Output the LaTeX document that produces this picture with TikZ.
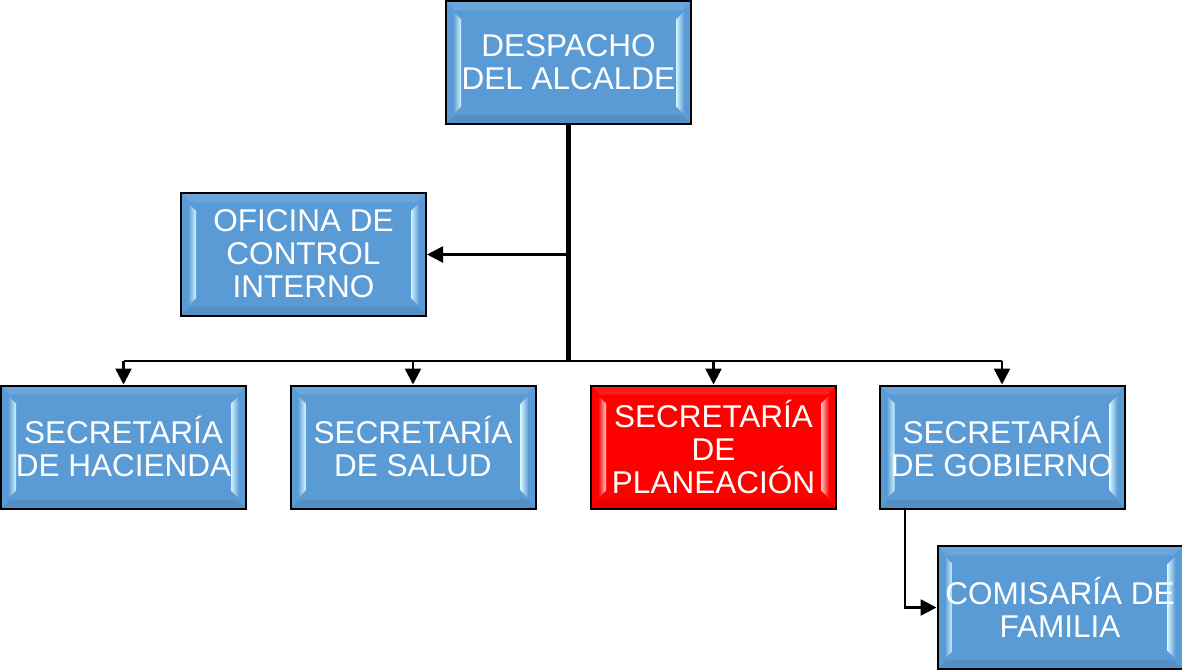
\documentclass[tikz,border=0pt]{standalone}
\usepackage{fontspec}
\setmainfont{Liberation Sans}
\usetikzlibrary{arrows.meta}
\definecolor{boxblue}{HTML}{5B9BD5}
\definecolor{bevblue}{HTML}{D2F4FF}
\definecolor{boxred}{HTML}{FF0000}
\definecolor{bevred}{HTML}{FFC8C8}
\newcommand\ppnw[2]{([xshift=#1pt,yshift=-#2pt]path picture bounding box.north west)}
\newcommand\ppne[2]{([xshift=-#1pt,yshift=-#2pt]path picture bounding box.north east)}
\newcommand\ppsw[2]{([xshift=#1pt,yshift=#2pt]path picture bounding box.south west)}
\newcommand\ppse[2]{([xshift=-#1pt,yshift=#2pt]path picture bounding box.south east)}
\tikzset{
  orgbox/.style 2 args={draw=black, line width=2pt, fill=#1, text=white,
    font=\fontsize{31.5}{33}\selectfont, align=center,
    minimum width=245pt, minimum height=123pt, inner sep=0pt,
    text depth=1pt,
    path picture={
      \fill[#1!90!white] \ppnw{0}{0} -- \ppne{0}{0} -- \ppne{9}{9} -- \ppnw{9}{9} -- cycle;
      \fill[#1!92!black] \ppsw{0}{0} -- \ppse{0}{0} -- \ppse{9}{9} -- \ppsw{9}{9} -- cycle;
      \shade[left color=#1, right color=#2] \ppnw{7}{10} -- \ppnw{15}{18} -- \ppsw{15}{18} -- \ppsw{7}{10} -- cycle;
      \shade[left color=#2, right color=#1] \ppne{15}{18} -- \ppne{7}{10} -- \ppse{7}{10} -- \ppse{15}{18} -- cycle;
    }},
  bluebox/.style={orgbox={boxblue}{bevblue}},
  redbox/.style={orgbox={boxred}{bevred}},
  trunk/.style={draw=black, line width=5pt},
  link/.style={draw=black, line width=2.5pt},
  arr/.style={link, -{Triangle[length=16pt,width=16pt]}}
}
\begin{document}
\begin{tikzpicture}[x=1pt,y=-1pt]
\useasboundingbox (0,0) rectangle (1182,671);
\node[bluebox] (desp) at (568.5,63) {DESPACHO\\DEL ALCALDE};
\node[bluebox] (ofi) at (303.5,254.5) {OFICINA DE\\CONTROL\\INTERNO};
\node[bluebox] (hac) at (123.5,447) {SECRETARÍA\\DE HACIENDA};
\node[bluebox] (sal) at (413,447) {SECRETARÍA\\DE SALUD};
\node[redbox] (pla) at (713.5,447) {SECRETARÍA\\DE\\PLANEACIÓN};
\node[bluebox] (gob) at (1002,447) {SECRETARÍA\\DE GOBIERNO};
\node[bluebox] (com) at (1060,607.5) {COMISARÍA DE\\FAMILIA};
\coordinate (bus) at (568.5,361);
\coordinate (ofj) at (568.5,254.5);
\draw[trunk] (desp.south) -- ([yshift=-1.2pt]bus);
\draw[arr] (ofj) -- (ofi.east);
\draw[link] (hac.north |- bus) -- (gob.north |- bus);
\draw[arr] (hac.north |- bus) -- (hac.north);
\draw[arr] (sal.north |- bus) -- (sal.north);
\draw[arr] (pla.north |- bus) -- (pla.north);
\draw[arr] (gob.north |- bus) -- (gob.north);
\draw[arr] ([xshift=-97pt]gob.south) |- (com.west);
\end{tikzpicture}
\end{document}
